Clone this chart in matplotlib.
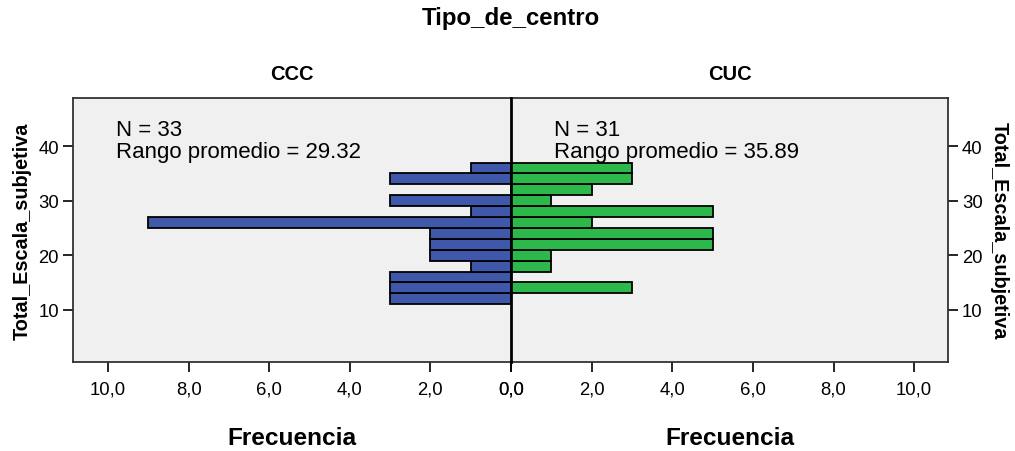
import matplotlib
matplotlib.use("Agg")
import matplotlib.pyplot as plt
from matplotlib.ticker import FuncFormatter

plt.rcParams['font.family'] = ['Liberation Sans', 'DejaVu Sans']

# Histogram bins of Total_Escala_subjetiva (width 2, centres 12..36)
bin_centers = [12, 14, 16, 18, 20, 22, 24, 26, 28, 30, 32, 34, 36]
bin_width = 2
ccc_counts = [3, 3, 3, 1, 2, 2, 2, 9, 1, 3, 0, 3, 1]
cuc_counts = [0, 3, 0, 1, 1, 5, 5, 2, 5, 1, 2, 3, 3]
groups = ["CCC", "CUC"]
n_values = [33, 31]
mean_ranks = ["29.32", "35.89"]
x_ticks = [0, 2, 4, 6, 8, 10]
y_ticks = [10, 20, 30, 40]

blue = "#3F58AA"
green = "#2DB84B"
panel_bg = "#F0F0F0"
frame_col = "#333333"

fig = plt.figure(figsize=(10.15, 4.52), dpi=100)
W, H = 1015, 452
x0, xm, x1 = 73, 511, 948
ytop, ybot = 99, 363
axL = fig.add_axes([x0 / W, 1 - ybot / H, (xm - x0) / W, (ybot - ytop) / H])
axR = fig.add_axes([xm / W, 1 - ybot / H, (x1 - xm) / W, (ybot - ytop) / H], sharey=axL)

axL.barh(bin_centers, ccc_counts, height=bin_width, color=blue,
         edgecolor="black", linewidth=1.3, zorder=3)
axR.barh(bin_centers, cuc_counts, height=bin_width, color=green,
         edgecolor="black", linewidth=1.3, zorder=3)

axL.set_xlim(10.87, 0)
axR.set_xlim(0, 10.84)
axL.set_ylim(0.4, 48.85)

fmt = FuncFormatter(lambda v, p: f"{v:.1f}".replace(".", ","))
for ax in (axL, axR):
    ax.set_facecolor(panel_bg)
    ax.set_xticks(x_ticks)
    ax.xaxis.set_major_formatter(fmt)
    ax.tick_params(axis="x", direction="out", length=7, width=1.2,
                   labelsize=13.3, pad=6, colors="black")
    ax.set_xlabel("Frecuencia", fontsize=17.6, fontweight="bold", labelpad=21)
    for s in ax.spines.values():
        s.set_color(frame_col)
        s.set_linewidth(1.3)

axL.set_yticks(y_ticks)
axL.tick_params(axis="y", direction="out", length=7, width=1.2,
                labelsize=13.3, pad=3, left=True, right=False)
axL.set_ylabel("Total_Escala_subjetiva", fontsize=14.3, fontweight="bold", labelpad=5)
axL.spines["right"].set_visible(False)

axR.yaxis.tick_right()
axR.yaxis.set_label_position("right")
axR.tick_params(axis="y", direction="out", length=7, width=1.2,
                labelsize=13.3, pad=3, left=False, right=True,
                labelleft=False, labelright=True)
axR.set_ylabel("Total_Escala_subjetiva", fontsize=14.3, fontweight="bold",
               rotation=270, labelpad=19)
# dividing line between the two groups
axR.spines["left"].set_color("black")
axR.spines["left"].set_linewidth(2.0)
axR.spines["left"].set_zorder(5)

for ax, g in zip((axL, axR), groups):
    ax.set_title(g, fontsize=14.5, fontweight="bold", pad=14)

axL.text(9.8, 42.1, f"N = {n_values[0]}", fontsize=16, va="baseline", ha="left")
axL.text(9.8, 38.0, f"Rango promedio = {mean_ranks[0]}", fontsize=16,
         va="baseline", ha="left")
axR.text(1.07, 42.1, f"N = {n_values[1]}", fontsize=16, va="baseline", ha="left")
axR.text(1.07, 38.0, f"Rango promedio = {mean_ranks[1]}", fontsize=16,
         va="baseline", ha="left")

fig.text(xm / W, 1 - 18 / H, "Tipo_de_centro", fontsize=17.3, fontweight="bold",
         ha="center", va="center")

fig.savefig("out.png", dpi=100, facecolor="white")
